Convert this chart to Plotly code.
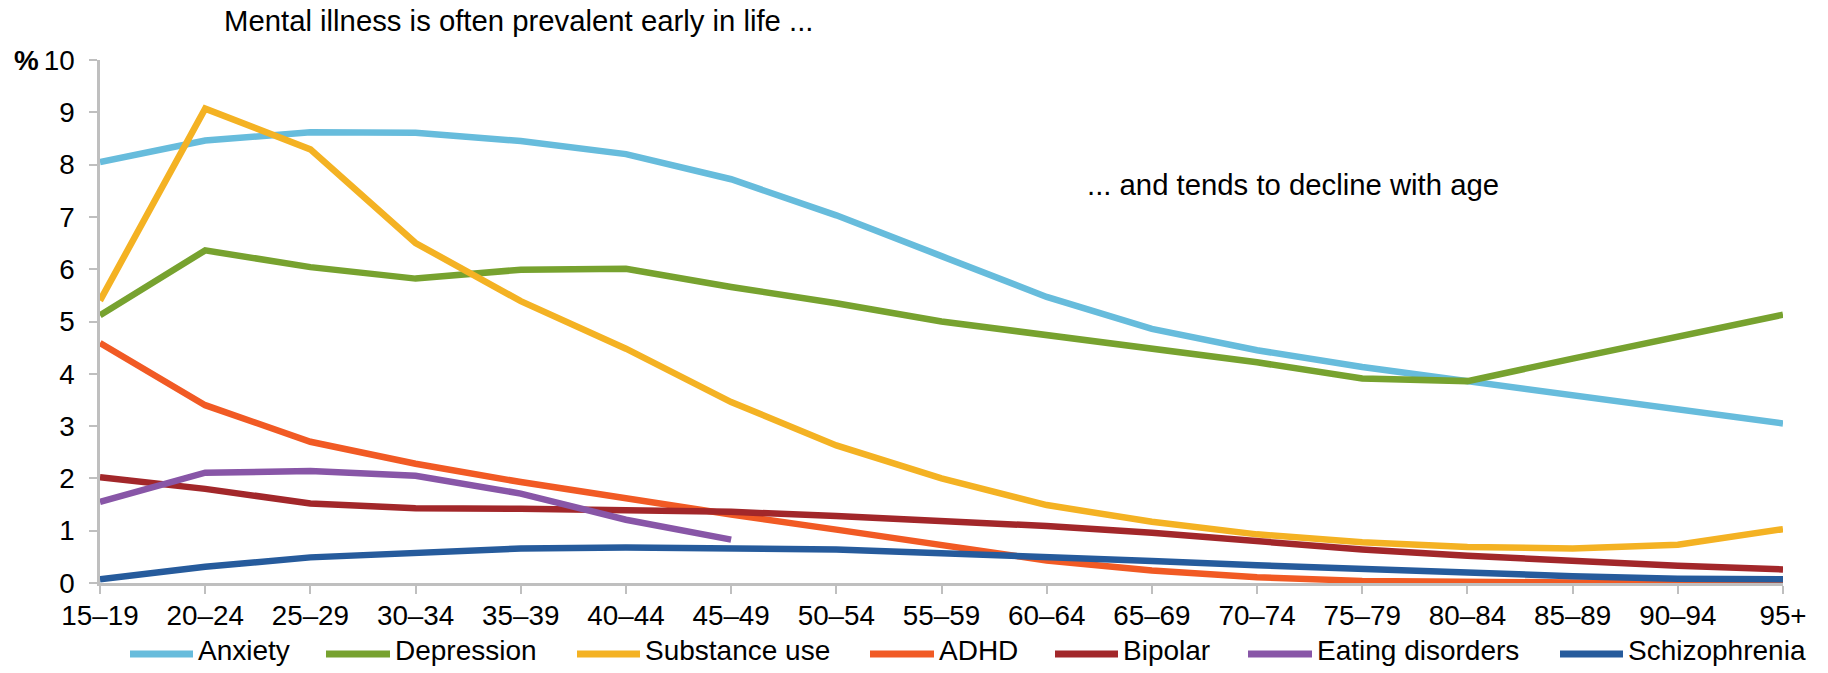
import plotly.graph_objects as go

# Age groups on the horizontal axis
age_groups = ["15–19", "20–24", "25–29", "30–34", "35–39", "40–44", "45–49", "50–54",
              "55–59", "60–64", "65–69", "70–74", "75–79", "80–84", "85–89", "90–94", "95+"]

# Prevalence by age group, per cent
anxiety = [8.05, 8.46, 8.62, 8.61, 8.45, 8.20, 7.72, 7.03, 6.25, 5.47, 4.86, 4.45, 4.13, 3.86, 3.62, 3.33, 3.05]
depression = [5.12, 6.36, 6.04, 5.82, 5.99, 6.01, 5.66, 5.35, 5.00, 4.74, 4.51, 4.22, 3.91, 3.86, 4.29, 4.72, 5.13]
substance_use = [5.40, 9.07, 8.29, 6.50, 5.39, 4.48, 3.46, 2.63, 2.00, 1.49, 1.17, 0.93, 0.78, 0.69, 0.66, 0.73, 1.03]
adhd = [4.59, 3.40, 2.70, 2.28, 1.93, 1.61, 1.31, 1.02, 0.74, 0.43, 0.24, 0.11, 0.04, 0.01, 0.01, 0.00, 0.00]
bipolar = [2.02, 1.80, 1.52, 1.43, 1.42, 1.40, 1.36, 1.28, 1.19, 1.09, 0.96, 0.80, 0.64, 0.52, 0.41, 0.33, 0.26]
eating_disorders = [1.55, 2.11, 2.14, 2.05, 1.71, 1.21, 0.83] + [None] * 10
schizophrenia = [0.07, 0.31, 0.49, 0.59, 0.66, 0.68, 0.67, 0.64, 0.57, 0.51, 0.42, 0.34, 0.26, 0.19, 0.13, 0.08, 0.07]

series_names = ["Anxiety", "Depression", "Substance use", "ADHD", "Bipolar",
                "Eating disorders", "Schizophrenia"]
series_values = [anxiety, depression, substance_use, adhd, bipolar, eating_disorders, schizophrenia]
series_colors = ["#67BCDC", "#77A22F", "#F4B223", "#F15A24", "#A2272A", "#8856A7", "#265B9C"]

y_ticks = list(range(0, 11))

W, H = 1828, 673
M_L, M_R, M_T, M_B = 100, 45, 60, 90
PW, PH = W - M_L - M_R, H - M_T - M_B
FONT = "Liberation Sans, Arial, Helvetica, sans-serif"
FS_TICK = 27.8
FS_LEGEND = 28
FS_NOTE = 29.3
AXIS_GREY = "#BFBFBF"


def px(x):
    """Horizontal page pixel -> paper coordinate."""
    return (x - M_L) / PW


def py(y):
    """Vertical page pixel -> paper coordinate."""
    return (H - M_B - y) / PH


fig = go.Figure()
for name, vals, col in zip(series_names, series_values, series_colors):
    fig.add_trace(go.Scatter(
        x=age_groups, y=vals, name=name, mode="lines",
        line=dict(color=col, width=6.5),
        connectgaps=False, showlegend=False,
    ))

# Legend drawn below the axis: short coloured bar followed by the series name
legend_slots = [(130, 193), (326, 390), (577, 640), (870, 934), (1055, 1118), (1248, 1312), (1560, 1623)]
shapes = []
annotations = []
for (x0, x1), name, col in zip(legend_slots, series_names, series_colors):
    shapes.append(dict(type="line", xref="paper", yref="paper",
                       x0=px(x0), x1=px(x1), y0=py(654), y1=py(654),
                       line=dict(color=col, width=7)))
    annotations.append(dict(xref="paper", yref="paper", x=px(x1 + 3), y=py(650),
                            xanchor="left", yanchor="middle", showarrow=False,
                            text=name, font=dict(family=FONT, size=FS_LEGEND, color="#000")))

annotations += [
    dict(xref="paper", yref="paper", x=px(518), y=py(20), xanchor="center", yanchor="middle",
         showarrow=False, text="Mental illness is often prevalent early in life ...",
         font=dict(family=FONT, size=FS_NOTE, color="#000")),
    dict(xref="paper", yref="paper", x=px(1293), y=py(184), xanchor="center", yanchor="middle",
         showarrow=False, text="... and tends to decline with age",
         font=dict(family=FONT, size=FS_NOTE, color="#000")),
    dict(xref="paper", yref="paper", x=px(41), y=py(61), xanchor="right", yanchor="middle",
         showarrow=False, text="<b>%</b>",
         font=dict(family=FONT, size=FS_TICK, color="#000")),
]

fig.update_layout(
    width=W, height=H,
    margin=dict(l=M_L, r=M_R, t=M_T, b=M_B, autoexpand=False),
    paper_bgcolor="white", plot_bgcolor="white",
    font=dict(family=FONT, size=FS_TICK, color="#000"),
    shapes=shapes, annotations=annotations,
    showlegend=False,
)
fig.update_xaxes(
    type="category", categoryorder="array", categoryarray=age_groups,
    range=[0, len(age_groups) - 1],
    showline=True, linecolor=AXIS_GREY, linewidth=2.5,
    ticks="outside", ticklen=8, tickwidth=2, tickcolor=AXIS_GREY,
    showgrid=False, zeroline=False,
    tickfont=dict(family=FONT, size=FS_TICK, color="#000"),
    ticklabelstandoff=-2,
)
fig.update_yaxes(
    range=[0, 10], tickvals=y_ticks,
    showline=True, linecolor=AXIS_GREY, linewidth=2.5,
    ticks="outside", ticklen=8, tickwidth=2, tickcolor=AXIS_GREY,
    showgrid=False, zeroline=False,
    tickfont=dict(family=FONT, size=FS_TICK, color="#000"),
    ticklabelstandoff=9,
)

fig.write_html("out.html")
